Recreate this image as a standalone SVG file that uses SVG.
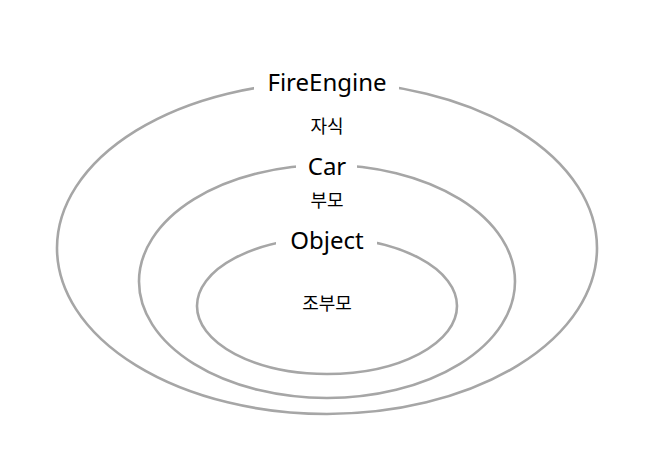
<svg xmlns="http://www.w3.org/2000/svg" width="662" height="455" viewBox="0 0 662 455">
<style>
.ring{fill:none;stroke:#a6a6a6;stroke-width:2.6}
.gap{fill:#ffffff;stroke:none}
.title{font-family:"Noto Sans","Noto Sans CJK KR",sans-serif;font-size:24px;fill:#000;text-anchor:middle}
.sub{font-family:"Noto Sans CJK KR",sans-serif;font-size:18px;fill:#000;text-anchor:middle}
</style>
<rect width="662" height="455" fill="#ffffff"/>
<g id="fireengine">
<ellipse class="ring" cx="327" cy="248" rx="270" ry="166"/>
<rect class="gap" x="254" y="70" width="145" height="30"/>
<text class="title" x="327" y="91">FireEngine</text>
<text class="sub" x="327" y="133">자식</text>
</g>
<g id="car">
<ellipse class="ring" cx="327" cy="281.5" rx="188" ry="116.5"/>
<rect class="gap" x="296" y="152" width="61" height="30"/>
<text class="title" x="327" y="175">Car</text>
<text class="sub" x="327" y="207">부모</text>
</g>
<g id="object">
<ellipse class="ring" cx="327" cy="306" rx="130" ry="68"/>
<rect class="gap" x="276" y="225" width="101" height="30"/>
<text class="title" x="327" y="249">Object</text>
<text class="sub" x="327" y="310">조부모</text>
</g>
<g id="connectors"></g>
</svg>
